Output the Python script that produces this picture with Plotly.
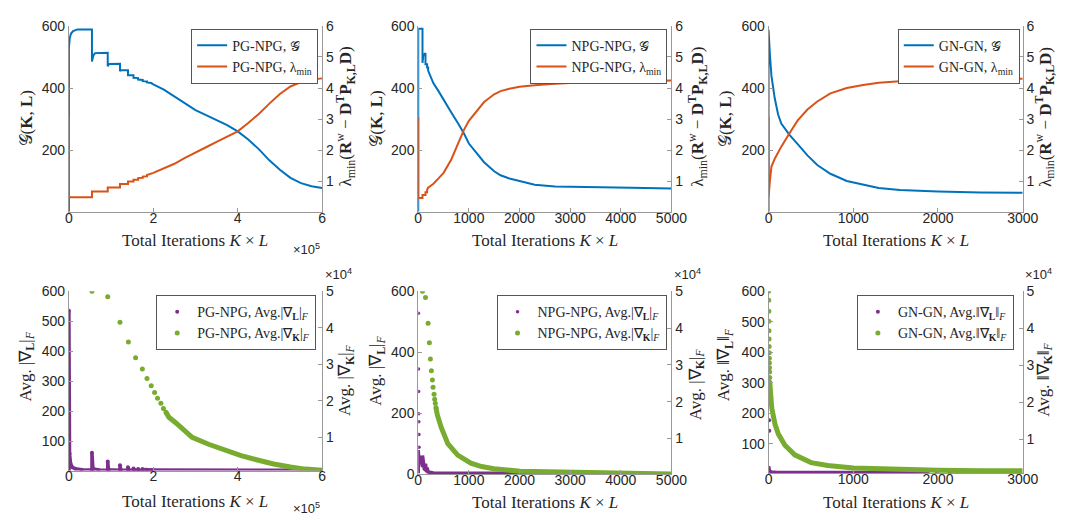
import plotly.graph_objects as go

W, H = 1068, 520

# ---------------- data ----------------
# Top-left: PG-NPG
pg_G_x = [0, 0, 2000, 5000, 10000, 20000, 54600, 54600, 58000, 62000, 92000, 92000, 95000,
          121000, 121000, 123000, 140000, 140000, 153000, 153000, 164000, 164000, 175000, 175000,
          185000, 185000, 195000, 200000, 225000, 250000, 275000, 300000, 325000, 350000, 375000,
          400000, 425000, 450000, 475000, 500000, 525000, 550000, 575000, 600000]
pg_G_y = [3, 530, 560, 575, 583, 588, 588, 485, 505, 512, 513, 470, 477,
          478, 454, 457, 457, 441, 441, 433, 432, 427, 426, 422,
          421, 418, 416, 412, 395, 373, 350, 329, 313, 298, 281,
          261, 235, 204, 168, 138, 112, 95, 85, 79]
pg_lam_x = [0, 0, 54600, 54600, 92000, 92000, 121000, 121000, 140000, 140000, 153000, 153000,
            164000, 164000, 175000, 175000, 185000, 185000, 200000, 225000, 250000, 275000, 300000,
            325000, 350000, 375000, 400000, 425000, 450000, 475000, 500000, 525000, 550000, 575000, 600000]
pg_lam_y = [3.07, 0.50, 0.50, 0.68, 0.68, 0.81, 0.81, 0.92, 0.92, 1.00, 1.00, 1.06,
            1.06, 1.11, 1.12, 1.16, 1.17, 1.21, 1.28, 1.42, 1.57, 1.76, 1.94,
            2.10, 2.27, 2.43, 2.61, 2.88, 3.17, 3.50, 3.81, 4.05, 4.19, 4.27, 4.31]

# Top-middle: NPG-NPG
npg_G_x = [0, 0, 84, 84, 100, 143, 143, 175, 175, 195, 195, 230, 300, 400, 500, 650, 800, 900,
           1000, 1100, 1300, 1500, 1625, 1800, 2000, 2300, 2700, 3500, 4200, 5000]
npg_G_y = [3, 590, 590, 481, 505, 512, 476, 476, 466, 466, 456, 440, 415, 390, 362, 322, 283, 255,
           222, 203, 162, 133, 120, 110, 101, 90, 84, 81, 80, 78]
npg_lam_x = [0, 0, 84, 84, 143, 143, 175, 175, 195, 300, 400, 500, 650, 800, 900, 1000, 1100,
             1300, 1500, 1625, 1800, 2000, 2300, 2700, 3500, 4200, 5000]
npg_lam_y = [3.07, 0.47, 0.47, 0.57, 0.57, 0.66, 0.66, 0.74, 0.80, 0.93, 1.10, 1.28, 1.70, 2.30,
             2.65, 2.95, 3.16, 3.55, 3.80, 3.90, 3.98, 4.04, 4.09, 4.14, 4.20, 4.22, 4.24]

# Top-right: GN-GN
gn_G_x = [0, 0, 15, 34, 73, 112, 150, 247, 344, 459, 575, 730, 923, 1117, 1300, 1550, 2000, 2500, 3000]
gn_G_y = [3, 587, 510, 439, 367, 316, 286, 250, 220, 184, 153, 125, 102, 90, 79, 73, 68, 65, 64]
gn_lam_x = [0, 0, 15, 34, 73, 150, 247, 344, 459, 575, 730, 923, 1117, 1300, 1550, 2000, 2500, 3000]
gn_lam_y = [3.07, 0.51, 1.00, 1.48, 1.73, 2.12, 2.55, 2.96, 3.31, 3.57, 3.83, 4.00, 4.10, 4.17,
            4.22, 4.27, 4.29, 4.30]

# Bottom-left: PG-NPG gradients
pg_dL_x = [0, 0, 1500, 4000, 8000, 15000, 30000, 54600, 54600, 57000, 70000, 92000, 92000, 94000,
           121000, 121000, 123000, 140000, 140000, 142000, 153000, 153000, 155000, 164000, 164000,
           166000, 175000, 175000, 185000, 185000, 195000, 195000, 600000]
pg_dL_y = [4, 535, 60, 25, 14, 9, 6, 5, 62, 9, 5, 4, 33, 6,
           4, 21, 5, 4, 14, 5, 4, 10, 5, 4, 8,
           4, 4, 7, 4, 6, 4, 5, 4]
pg_dK_x = [54600, 92000, 121000, 141000, 158000, 174000, 185000, 195000, 203000, 210000, 218000,
           224000, 230000]
pg_dK_y = [50000, 48500, 41500, 36100, 31800, 28700, 26100, 24100, 22300, 20700, 19300, 17900, 16900]
pg_dK_dense_x = [230000, 237000, 253000, 292000, 331000, 370000, 408000, 447000, 485000, 525000,
                 560000, 600000]
pg_dK_dense_y = [16900, 15500, 14000, 10000, 8100, 6500, 5000, 3800, 2700, 1900, 1300, 1000]

# Bottom-middle: NPG-NPG gradients
npg_dL_x = [3, 5, 7, 9, 11, 13, 15]
npg_dL_y = [528, 345, 272, 199, 173, 131, 89]
npg_dL_dense_x = [0, 0, 10, 20, 30, 45, 60, 84, 84, 100, 120, 143, 143, 160, 175, 175, 195, 230,
                  300, 450, 700, 1200, 3100]
npg_dL_dense_y = [4, 80, 50, 62, 40, 55, 35, 25, 62, 30, 18, 15, 35, 12, 10, 22, 8, 6,
                  5, 4, 4, 4, 4]
npg_dK_x = [84, 143, 195, 220, 240, 259, 279, 292, 312, 324, 337, 350]
npg_dK_y = [50000, 48300, 41300, 36000, 31600, 28400, 25900, 23900, 22000, 20700, 19600, 18400]
npg_dK_dense_x = [350, 362, 376, 454, 584, 779, 1039, 1250, 1493, 2013, 2598, 3500, 4200, 5000]
npg_dK_dense_y = [18400, 17400, 16500, 13000, 8600, 5500, 3300, 2400, 1800, 1100, 900, 600, 500, 400]

# Bottom-right: GN-GN gradients
gn_dL_x = [3, 5, 7, 9, 1988, 2143, 2266, 2394, 2510, 2645, 2781, 2916]
gn_dL_y = [316, 232, 177, 142, 5, 5, 5, 5, 5, 5, 5, 5]
gn_dL_dense_x = [0, 0, 10, 30, 100, 400, 1900]
gn_dL_dense_y = [5, 25, 12, 7, 5, 5, 5]
gn_dK_x = [1, 2, 3, 4, 5, 6, 7, 8, 9, 10, 11, 12, 13, 14]
gn_dK_y = [50000, 47600, 44600, 41900, 39300, 37100, 35100, 33400, 31900, 30600, 29300, 28200,
           26700, 25400]
gn_dK_dense_x = [14, 19, 38, 77, 116, 193, 309, 502, 698, 1000, 1279, 1550, 2000, 2500, 3000]
gn_dK_dense_y = [25400, 23700, 18400, 14000, 11400, 8400, 5800, 3700, 2900, 2250, 2000, 1800,
                 1600, 1500, 1500]

# tick definitions
x_e5_vals = [0, 200000, 400000, 600000]
x_e5_text = ["0", "2", "4", "6"]
x_5000_vals = [0, 1000, 2000, 3000, 4000, 5000]
x_3000_vals = [0, 1000, 2000, 3000]
lam_ticks = [1, 2, 3, 4, 5, 6]
grad_e4_vals = [10000, 20000, 30000, 40000, 50000]
grad_e4_text = ["1", "2", "3", "4", "5"]

BLUE, ORANGE, PURPLE, GREEN = "#0072BD", "#D95319", "#7E2F8E", "#77AC30"
SERIF = "Liberation Serif"
SANS = "Liberation Sans"
TXT = "#262626"
AX = "#999999"


def px_x(a):
    return a / W


def px_y(a):
    return 1 - a / H


def xname(n):
    return "xaxis" if n == 1 else f"xaxis{n}"


def yname(n):
    return "yaxis" if n == 1 else f"yaxis{n}"


def xref(n):
    return "x" if n == 1 else f"x{n}"


def yref(n):
    return "y" if n == 1 else f"y{n}"


fig = go.Figure()
layout = {}

# panel geometry in pixels: (left, right, top, bottom)
panels = [
    (58, 316, 10, 202),
    (414, 672, 10, 202),
    (771, 1030, 10, 202),
    (58, 316, 284, 469),
    (414, 672, 284, 473),
    (771, 1030, 284, 472),
]

axis_base = dict(showline=True, linecolor=AX, linewidth=1, ticks="inside", ticklen=4,
                 tickcolor=AX, tickfont=dict(family=SANS, size=14, color=TXT),
                 showgrid=False, zeroline=False, fixedrange=True, mirror=False)

x_cfg = [
    dict(range=[0, 600000], tickvals=x_e5_vals, ticktext=x_e5_text),
    dict(range=[0, 5000], tickvals=x_5000_vals),
    dict(range=[0, 3000], tickvals=x_3000_vals),
    dict(range=[0, 600000], tickvals=x_e5_vals, ticktext=x_e5_text),
    dict(range=[0, 5000], tickvals=x_5000_vals),
    dict(range=[0, 3000], tickvals=x_3000_vals),
]
yl_cfg = [
    dict(range=[3, 600], tickvals=[200, 400, 600]),
    dict(range=[3, 600], tickvals=[200, 400, 600]),
    dict(range=[3, 600], tickvals=[200, 400, 600]),
    dict(range=[3, 600], tickvals=[100, 200, 300, 400, 500, 600]),
    dict(range=[0, 600], tickvals=[0, 200, 400, 600]),
    dict(range=[2, 600], tickvals=[100, 200, 300, 400, 500, 600]),
]
yr_cfg = [
    dict(range=[0.03, 6], tickvals=lam_ticks),
    dict(range=[0.03, 6], tickvals=lam_ticks),
    dict(range=[0.03, 6], tickvals=lam_ticks),
    dict(range=[900, 50000], tickvals=grad_e4_vals, ticktext=grad_e4_text),
    dict(range=[250, 50000], tickvals=grad_e4_vals, ticktext=grad_e4_text),
    dict(range=[760, 50000], tickvals=grad_e4_vals, ticktext=grad_e4_text),
]

for i, (l, r, t, b) in enumerate(panels):
    xa, yl, yr = i + 1, 2 * i + 1, 2 * i + 2
    layout[xname(xa)] = dict(axis_base, domain=[px_x(l), px_x(r)], anchor=yref(yl),
                             ticklabelstandoff=-7, **x_cfg[i])
    layout[yname(yl)] = dict(axis_base, domain=[px_y(b), px_y(t)], anchor=xref(xa), **yl_cfg[i])
    layout[yname(yr)] = dict(axis_base, domain=[px_y(b), px_y(t)], anchor=xref(xa),
                             overlaying=yref(yl), side="right", **yr_cfg[i])


def line_trace(x, y, color, name, panel, right, legend, width=2, show=True):
    xa, yl, yr = panel + 1, 2 * panel + 1, 2 * panel + 2
    return go.Scatter(x=x, y=y, mode="lines", line=dict(color=color, width=width),
                      name=name, xaxis=xref(xa), yaxis=yref(yr if right else yl),
                      legend=legend, showlegend=show, hoverinfo="skip")


def dot_trace(x, y, color, name, panel, right, legend, size=5, show=True):
    xa, yl, yr = panel + 1, 2 * panel + 1, 2 * panel + 2
    return go.Scatter(x=x, y=y, mode="markers", marker=dict(color=color, size=size, line=dict(width=0)),
                      name=name, xaxis=xref(xa), yaxis=yref(yr if right else yl),
                      legend=legend, showlegend=show, hoverinfo="skip", cliponaxis=True)


G = "𝒢"
LAM = "λ<sub>min</sub>"

# top row
fig.add_trace(line_trace(pg_G_x, pg_G_y, BLUE, f"PG-NPG, {G}", 0, False, "legend"))
fig.add_trace(line_trace(pg_lam_x, pg_lam_y, ORANGE, f"PG-NPG, {LAM}", 0, True, "legend"))
fig.add_trace(line_trace(npg_G_x, npg_G_y, BLUE, f"NPG-NPG, {G}", 1, False, "legend2"))
fig.add_trace(line_trace(npg_lam_x, npg_lam_y, ORANGE, f"NPG-NPG, {LAM}", 1, True, "legend2"))
fig.add_trace(line_trace(gn_G_x, gn_G_y, BLUE, f"GN-GN, {G}", 2, False, "legend3"))
fig.add_trace(line_trace(gn_lam_x, gn_lam_y, ORANGE, f"GN-GN, {LAM}", 2, True, "legend3"))

# bottom row
nL1 = "Avg.|∇<sub><b>L</b></sub>|<sub><i>F</i></sub>"
nK1 = "Avg.|∇<sub><b>K</b></sub>|<sub><i>F</i></sub>"
nL2 = "Avg.‖∇<sub><b>L</b></sub>‖<sub><i>F</i></sub>"
nK2 = "Avg.‖∇<sub><b>K</b></sub>‖<sub><i>F</i></sub>"

fig.add_trace(line_trace(pg_dL_x, pg_dL_y, PURPLE, "", 3, False, "legend4", width=3.5, show=False))
fig.add_trace(dot_trace(pg_dL_x, pg_dL_y, PURPLE, f"PG-NPG, {nL1}", 3, False, "legend4", size=4))
fig.add_trace(line_trace(pg_dK_dense_x, pg_dK_dense_y, GREEN, "", 3, True, "legend4", width=5, show=False))
fig.add_trace(dot_trace(pg_dK_x, pg_dK_y, GREEN, f"PG-NPG, {nK1}", 3, True, "legend4"))

fig.add_trace(line_trace(npg_dL_dense_x, npg_dL_dense_y, PURPLE, "", 4, False, "legend5", width=3.5, show=False))
fig.add_trace(dot_trace(npg_dL_x, npg_dL_y, PURPLE, f"NPG-NPG, {nL1}", 4, False, "legend5", size=3.5))
fig.add_trace(line_trace(npg_dK_dense_x, npg_dK_dense_y, GREEN, "", 4, True, "legend5", width=5, show=False))
fig.add_trace(dot_trace(npg_dK_x, npg_dK_y, GREEN, f"NPG-NPG, {nK1}", 4, True, "legend5"))

fig.add_trace(line_trace(gn_dL_dense_x, gn_dL_dense_y, PURPLE, "", 5, False, "legend6", width=3.5, show=False))
fig.add_trace(dot_trace(gn_dL_x, gn_dL_y, PURPLE, f"GN-GN, {nL2}", 5, False, "legend6", size=4))
fig.add_trace(line_trace(gn_dK_dense_x, gn_dK_dense_y, GREEN, "", 5, True, "legend6", width=5, show=False))
fig.add_trace(dot_trace(gn_dK_x, gn_dK_y, GREEN, f"GN-GN, {nK2}", 5, True, "legend6"))

# legends
leg_base = dict(bgcolor="white", bordercolor="#555555", borderwidth=1, xanchor="right",
                yanchor="top", font=dict(family=SERIF, size=14, color=TXT), itemwidth=30,
                tracegroupgap=0)
leg_pos = [(312, 13), (668, 13), (1027, 13), (310, 288), (667, 288), (1021, 288)]
for k, (lx, ly) in enumerate(leg_pos):
    key = "legend" if k == 0 else f"legend{k + 1}"
    layout[key] = dict(leg_base, x=px_x(lx), y=px_y(ly))

# annotations: axis titles & exponents
ann = []
TITLE_FONT = dict(family=SERIF, size=17, color=TXT)


def add_text(text, x, y, angle=0, font=TITLE_FONT, xanchor="center", yanchor="middle"):
    ann.append(dict(text=text, x=px_x(x), y=px_y(y), xref="paper", yref="paper",
                    showarrow=False, textangle=angle, font=font,
                    xanchor=xanchor, yanchor=yanchor))


xtitle = "Total Iterations <i>K</i> × <i>L</i>"
for (l, r, t, b), ty in zip(panels, [232, 232, 232, 501, 502, 502]):
    add_text(xtitle, (l + r) / 2, ty)

gtitle = f"{G}(<b>K</b>, <b>L</b>)"
ltitle = "λ<sub>min</sub>(<b>R</b><sup>w</sup> − <b>D</b><sup><b>T</b></sup><b>P</b><sub><b>K,L</b></sub><b>D</b>)"
add_text(gtitle, 15, 106, -90)
add_text(gtitle, 372, 106, -90)
add_text(gtitle, 727, 106, -90)
add_text(ltitle, 340, 104, -90)
add_text(ltitle, 699, 104, -90)
add_text(ltitle, 1053, 104, -90)

add_text("Avg. |∇<sub><b>L</b></sub>|<sub><i>F</i></sub>", 15, 362, -90)
add_text("Avg. |∇<sub><b>K</b></sub>|<sub><i>F</i></sub>", 341, 376, -90)
add_text("Avg. |∇<sub><b>L</b></sub>|<sub><i>F</i></sub>", 372, 366, -90)
add_text("Avg. |∇<sub><b>K</b></sub>|<sub><i>F</i></sub>", 698, 380, -90)
add_text("Avg. ‖∇<sub><b>L</b></sub>‖<sub><i>F</i></sub>", 727, 360, -90)
add_text("Avg. ‖∇<sub><b>K</b></sub>‖<sub><i>F</i></sub>", 1053, 375, -90)

EXP_FONT = dict(family=SANS, size=13, color=TXT)
add_text("×10<sup>5</sup>", 316, 240, font=EXP_FONT, xanchor="right")
add_text("×10<sup>5</sup>", 316, 508, font=EXP_FONT, xanchor="right")
for xr in [317, 673, 1030]:
    add_text("×10<sup>4</sup>", xr, 266, font=EXP_FONT, xanchor="left")

layout["annotations"] = ann

fig.update_layout(width=W, height=H, margin=dict(l=0, r=0, t=0, b=0),
                  paper_bgcolor="white", plot_bgcolor="white", **layout)
fig.write_html("out.html")
